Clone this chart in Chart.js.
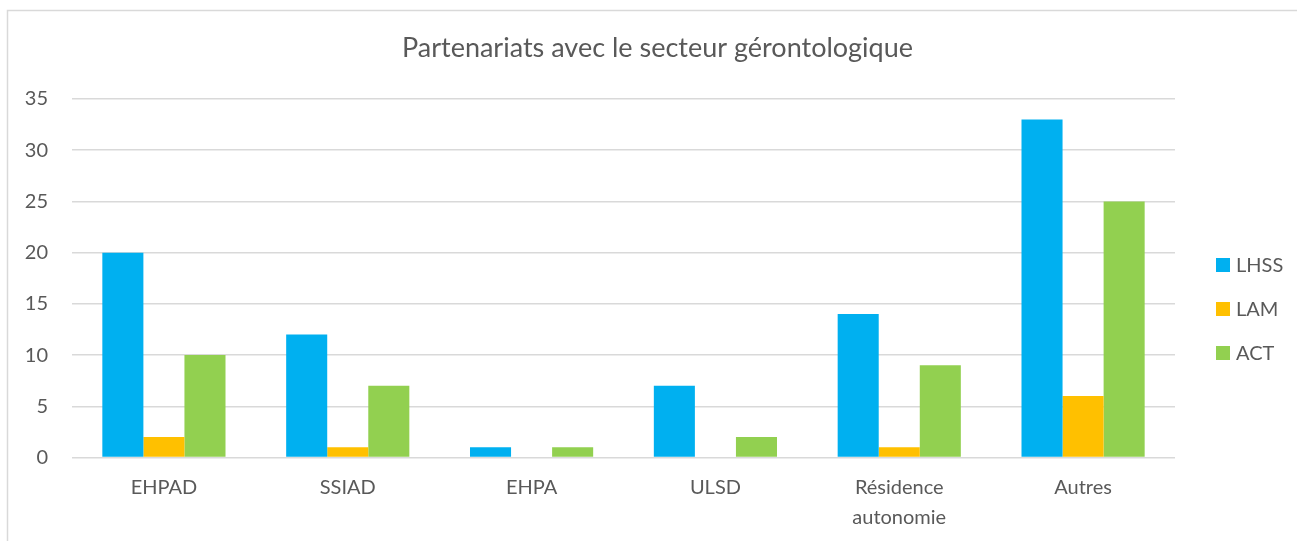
<!DOCTYPE html>
<html>
<head>
<meta charset="utf-8">
<script src="https://cdn.jsdelivr.net/npm/chart.js@4"></script>
<style>
  html, body { margin: 0; padding: 0; background: #fff; }
  #wrap { width: 1297px; height: 541px; position: relative; }
</style>
</head>
<body>
<div id="wrap"><canvas id="partChart"></canvas></div>
<script>
const categories = ['EHPAD', 'SSIAD', 'EHPA', 'ULSD', ['Résidence', 'autonomie'], 'Autres'];
const seriesNames = ['LHSS', 'LAM', 'ACT'];
const lhss = [20, 12, 1, 7, 14, 33];
const lam = [2, 1, 0, 0, 1, 6];
const act = [10, 7, 1, 2, 9, 25];
const yTicks = [0, 5, 10, 15, 20, 25, 30, 35];
const chartTitle = 'Partenariats avec le secteur gérontologique';

const colors = ['#00B0F0', '#FFC000', '#92D050'];
const textColor = '#595959';
const font = 'Lato, "Open Sans", sans-serif';

// frame, title and legend drawn by hand, Excel style
const framePlugin = {
    id: 'frame',
    beforeDraw(chart) {
        const ctx = chart.ctx;
        ctx.save();
        ctx.strokeStyle = '#d9d9d9';
        ctx.lineWidth = 1.5;
        ctx.strokeRect(7.5, 10.5, 1400, 700);
        ctx.restore();
    },
    afterDraw(chart) {
        const ctx = chart.ctx;
        ctx.save();
        ctx.fillStyle = textColor;
        ctx.font = '27px ' + font;
        ctx.textAlign = 'center';
        ctx.textBaseline = 'middle';
        ctx.fillText(chartTitle, 657.5, 48);

        const ys = [265, 309, 353];
        ctx.font = '20px ' + font;
        ctx.textAlign = 'left';
        chart.data.datasets.forEach(function (ds, i) {
            ctx.fillStyle = ds.backgroundColor;
            ctx.fillRect(1216, ys[i] - 7, 14, 14);
            ctx.fillStyle = textColor;
            ctx.fillText(ds.label, 1236, ys[i] + 1);
        });
        ctx.restore();
    }
};

const ctx = document.getElementById('partChart').getContext('2d');
new Chart(ctx, {
    type: 'bar',
    data: {
        labels: categories,
        datasets: [
            { label: seriesNames[0], data: lhss, backgroundColor: colors[0] },
            { label: seriesNames[1], data: lam, backgroundColor: colors[1] },
            { label: seriesNames[2], data: act, backgroundColor: colors[2] }
        ]
    },
    options: {
        responsive: true,
        maintainAspectRatio: false,
        animation: false,
        categoryPercentage: 0.67,
        barPercentage: 1.0,
        layout: { padding: { top: 99, left: 18, right: 122, bottom: 0 } },
        plugins: {
            legend: { display: false },
            tooltip: { enabled: false },
            title: { display: false }
        },
        scales: {
            x: {
                grid: { display: false, drawTicks: false },
                border: { display: false },
                ticks: {
                    color: textColor,
                    font: { family: font, size: 20, lineHeight: 1.5 },
                    padding: 15,
                    maxRotation: 0
                },
                afterFit: function (scale) { scale.height = 83.5; }
            },
            y: {
                min: 0,
                max: 35,
                grid: { color: '#d9d9d9', lineWidth: 1.5, drawTicks: false },
                border: { display: false },
                afterBuildTicks: function (scale) {
                    scale.ticks = yTicks.map(function (v) { return { value: v }; });
                },
                ticks: {
                    color: textColor,
                    font: { family: font, size: 20 },
                    padding: 24
                },
                afterFit: function (scale) { scale.width = 54; }
            }
        }
    },
    plugins: [framePlugin]
});
</script>
</body>
</html>
